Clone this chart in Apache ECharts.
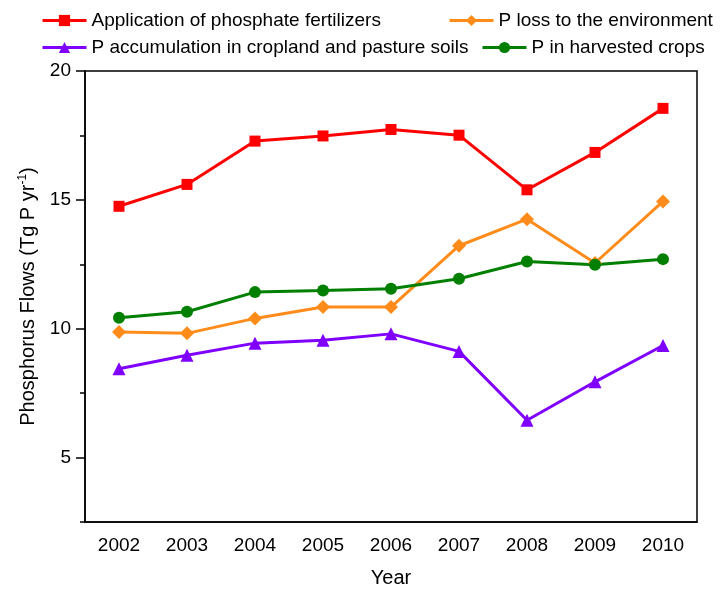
<!DOCTYPE html>
<html>
<head>
<meta charset="utf-8">
<script src="https://cdn.jsdelivr.net/npm/echarts@6/dist/echarts.min.js"></script>
<style>
  html, body { margin: 0; padding: 0; background: #fff; }
  #chart { width: 721px; height: 593px; }
</style>
</head>
<body>
<div id="chart"></div>
<script>
// Annual phosphorus flows, Tg P per year
const years = ['2002', '2003', '2004', '2005', '2006', '2007', '2008', '2009', '2010'];
const fertilizer = [14.75, 15.60, 17.28, 17.48, 17.73, 17.51, 15.39, 16.84, 18.55];
const lossEnv = [9.87, 9.82, 10.40, 10.84, 10.84, 13.22, 14.25, 12.55, 14.94];
const accumulation = [8.45, 8.97, 9.44, 9.55, 9.80, 9.12, 6.45, 7.94, 9.35];
const harvested = [10.43, 10.66, 11.42, 11.48, 11.55, 11.94, 12.61, 12.48, 12.70];
const yMajorTicks = [5, 10, 15, 20];
const yMinorTicks = [2.5, 7.5, 12.5, 17.5];

const names = {
  fert: 'Application of phosphate fertilizers',
  loss: 'P loss to the environment',
  acc: 'P accumulation in cropland and pasture soils',
  crop: 'P in harvested crops'
};

const FONT = 'Liberation Sans, Arial, sans-serif';

function legendAt(name, left, top) {
  return {
    data: [name],
    left: left,
    top: top,
    padding: 0,
    itemWidth: 44,
    itemHeight: 14,
    selectedMode: false,
    lineStyle: { width: 3 },
    textStyle: { fontFamily: FONT, fontSize: 19, color: '#000' }
  };
}

function lineSeries(name, data, color, symbol, size) {
  return {
    name: name,
    type: 'line',
    data: data,
    symbol: symbol,
    symbolSize: size,
    color: color,
    lineStyle: { width: 3, color: color },
    itemStyle: { color: color },
    emphasis: { disabled: true },
    animation: false
  };
}

const chart = echarts.init(document.getElementById('chart'), null, { renderer: 'canvas' });

chart.setOption({
  backgroundColor: '#fff',
  animation: false,
  grid: {
    left: 85, top: 71, right: 24, bottom: 68,
    show: true, borderColor: '#000', borderWidth: 1.5, backgroundColor: 'transparent'
  },
  legend: [
    legendAt(names.fert, 41, 11),
    legendAt(names.loss, 448, 11),
    legendAt(names.acc, 41, 38),
    legendAt(names.crop, 481, 38)
  ],
  xAxis: {
    type: 'category',
    data: years,
    boundaryGap: true,
    name: 'Year',
    nameLocation: 'middle',
    nameGap: 46,
    nameTextStyle: { fontFamily: FONT, fontSize: 20, color: '#000' },
    axisLine: { lineStyle: { color: '#000', width: 1.5 } },
    axisTick: { alignWithLabel: true, length: 9, lineStyle: { color: '#000', width: 1.5 } },
    axisLabel: { fontFamily: FONT, fontSize: 19, color: '#000', margin: 14 },
    splitLine: { show: false }
  },
  yAxis: [
    {
      type: 'value',
      min: 2.5,
      max: 20,
      interval: 2.5,
      name: '{n|Phosphorus Flows (Tg P yr}{s|-1}{n|)}',
      nameLocation: 'middle',
      nameGap: 46,
      nameTextStyle: {
        fontFamily: FONT, fontSize: 20, color: '#000',
        rich: {
          n: { fontFamily: FONT, fontSize: 20, color: '#000' },
          s: { fontFamily: FONT, fontSize: 12, color: '#000', verticalAlign: 'top', padding: [0, 0, 10, 0] }
        }
      },
      axisLine: { show: true, lineStyle: { color: '#000', width: 1.5 } },
      axisTick: { show: true, customValues: yMajorTicks, length: 9, lineStyle: { color: '#000', width: 1.5 } },
      axisLabel: { customValues: yMajorTicks, fontFamily: FONT, fontSize: 19, color: '#000', margin: 14 },
      splitLine: { show: false }
    },
    {
      type: 'value',
      min: 2.5,
      max: 20,
      interval: 2.5,
      position: 'left',
      axisLine: { show: false },
      axisTick: { show: true, customValues: yMinorTicks, length: 5, lineStyle: { color: '#000', width: 1.5 } },
      axisLabel: { show: false },
      splitLine: { show: false }
    }
  ],
  series: [
    lineSeries(names.fert, fertilizer, '#ff0000', 'rect', 11),
    lineSeries(names.loss, lossEnv, '#ff8c1a', 'diamond', 14),
    lineSeries(names.acc, accumulation, '#8000ff', 'triangle', 13),
    lineSeries(names.crop, harvested, '#007f00', 'circle', 12)
  ]
});
</script>
</body>
</html>
